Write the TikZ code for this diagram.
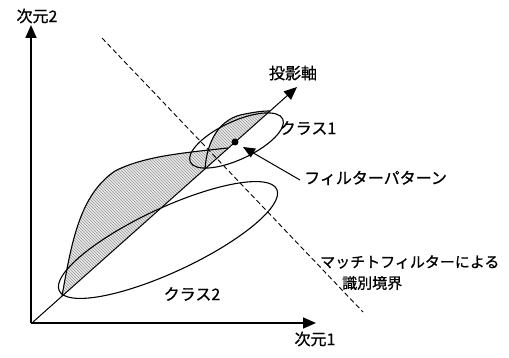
\documentclass[tikz,border=0pt]{standalone}
\usepackage{fontspec}
\setmainfont{Noto Sans CJK JP}[FakeBold=0.8]
\usetikzlibrary{arrows.meta,patterns}
\begin{document}
\begin{tikzpicture}[x=1pt,y=-1pt,
  lbl/.style={font=\fontsize{16}{19}\selectfont, inner sep=0pt},
  lblsmall/.style={font=\fontsize{15}{18}\selectfont, inner sep=0pt},
  axisline/.style={line width=1.6pt, -{Triangle[length=13pt,width=11pt]}},
  projline/.style={line width=1pt, -{Triangle[length=13pt,width=11pt]}},
  ptrline/.style={line width=1pt, -{Triangle[length=12pt,width=10pt]}},
  boundary/.style={line width=0.9pt, dash pattern=on 5pt off 3pt},
  lobe/.style={fill=gray!18, draw=none},
  lobehatch/.style={pattern=north west lines, pattern color=gray!80},
  lobeedge/.style={line width=1.1pt},
  cls/.style={line width=1.1pt}]
\useasboundingbox (0,0) rectangle (509,358);

% axes
\coordinate (O) at (31,323);
\coordinate (Y) at (31,25);
\coordinate (X) at (316,323);
\coordinate (P0) at (33,322);
\coordinate (P1) at (297,87);

% hatched lobes
\coordinate (A0) at (62,296);
\coordinate (A1) at (228,148);
\coordinate (B0) at (205,169);
\coordinate (B1) at (270,111);
\path[lobe] (A0) .. controls (72,240) and (80,195) .. (115,171)
   .. controls (140,158) and (175,154) .. (200,151) -- (A1) -- cycle;
\path[lobehatch] (A0) .. controls (72,240) and (80,195) .. (115,171)
   .. controls (140,158) and (175,154) .. (200,151) -- (A1) -- cycle;
\path[lobe] (B0) .. controls (207,140) and (220,118) .. (245,114)
   .. controls (255,112) and (262,111) .. (B1) -- cycle;
\path[lobehatch] (B0) .. controls (207,140) and (220,118) .. (245,114)
   .. controls (255,112) and (262,111) .. (B1) -- cycle;
\draw[lobeedge] (A0) .. controls (72,240) and (80,195) .. (115,171)
   .. controls (140,158) and (175,154) .. (200,151) -- (A1);
\draw[lobeedge] (B0) .. controls (207,140) and (220,118) .. (245,114)
   .. controls (255,112) and (262,111) .. (B1);

% class ellipses
\draw[cls, rotate around={25:(168,240)}] (168,240) ellipse [x radius=120pt, y radius=32pt];
\draw[cls, rotate around={25:(236.5,140.5)}] (236.5,140.5) ellipse [x radius=51pt, y radius=19pt];

% axes drawn
\draw[axisline] (O) -- (Y);
\draw[axisline] (O) -- (X);
\draw[projline] (P0) -- (P1);

% decision boundary
\coordinate (D0) at (102,38);
\coordinate (D1) at (363,312);
\draw[boundary] (D0) -- (D1);

% filter pattern dot
\node[circle, fill, inner sep=0pt, minimum size=7pt] (fp) at (235,142) {};
\coordinate (fptip) at (243,147);

% labels
\node[lbl] (l2) at (37,16) {次元2};
\node[lbl] (l1) at (315,339) {次元1};
\node[lbl] (proj) at (293,73) {投影軸};
\node[lbl] (c1) at (308,128) {クラス1};
\node[lbl] (c2) at (192,294) {クラス2};
\node[lbl, anchor=west] (fpl) at (304,178) {フィルターパターン};
\node[lblsmall, anchor=west] (bd1) at (320,262) {マッチトフィルターによる};
\node[lblsmall, anchor=west] (bd2) at (342,283) {識別境界};

\draw[ptrline] ([xshift=-4pt,yshift=-2pt]fpl.west) -- (fptip);
\end{tikzpicture}
\end{document}
